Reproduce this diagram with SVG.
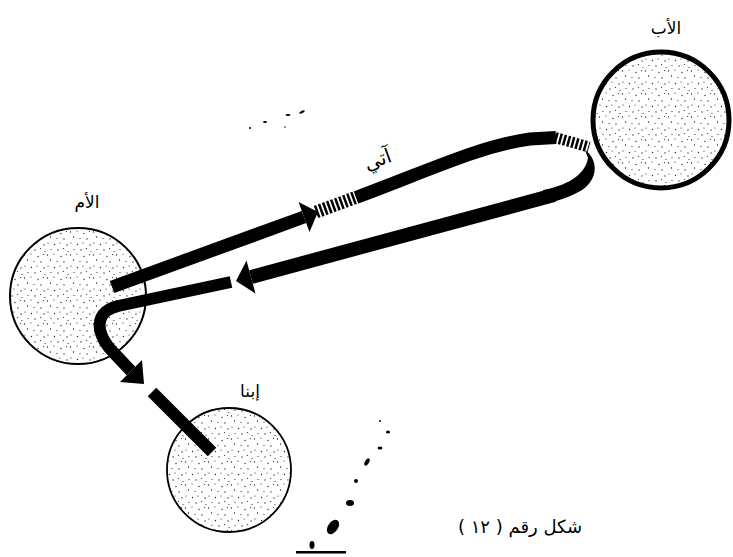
<svg xmlns="http://www.w3.org/2000/svg" width="733" height="557" viewBox="0 0 733 557">
<style>
.lbl{font-family:"DejaVu Sans","Liberation Sans",sans-serif;font-size:17px;fill:#000;text-anchor:middle;direction:rtl}
.band{fill:none;stroke:#000;stroke-linecap:butt;stroke-linejoin:round}
.hatch{fill:none;stroke:#000;stroke-dasharray:2.5 1.8}
.head{fill:#000}
.spk{fill:#000}
</style>
<defs>
<pattern id="dots" width="23" height="23" patternUnits="userSpaceOnUse">
<rect width="23" height="23" fill="#fff"/>
<g fill="#222">
<circle cx="1.5" cy="2" r="0.65"/>
<circle cx="8" cy="1" r="0.6"/>
<circle cx="15" cy="3.5" r="0.65"/>
<circle cx="20.5" cy="1.5" r="0.6"/>
<circle cx="4.5" cy="7" r="0.65"/>
<circle cx="11" cy="8.5" r="0.6"/>
<circle cx="18" cy="9" r="0.65"/>
<circle cx="2" cy="13" r="0.6"/>
<circle cx="8.5" cy="14.5" r="0.65"/>
<circle cx="14" cy="13" r="0.6"/>
<circle cx="21" cy="15" r="0.65"/>
<circle cx="5" cy="19.5" r="0.6"/>
<circle cx="12" cy="20" r="0.65"/>
<circle cx="17.5" cy="18.5" r="0.6"/>
<circle cx="22" cy="21.5" r="0.6"/>
</g>
</pattern>
</defs>
<rect width="733" height="557" fill="#fff"/>

<g id="node-father">
<circle cx="661" cy="120" r="68" fill="url(#dots)" stroke="#000" stroke-width="5"/>
<text class="lbl" x="666" y="34">الأب</text>
</g>

<g id="node-mother">
<circle cx="78" cy="296" r="68" fill="url(#dots)" stroke="#000" stroke-width="2"/>
<text class="lbl" x="87" y="208">الأم</text>
</g>

<g id="node-child">
<circle cx="229" cy="470" r="62" fill="url(#dots)" stroke="#000" stroke-width="1.8"/>
<text class="lbl" x="250" y="397">إبنا</text>
</g>

<g id="connectors">
<path class="band" stroke-width="13" d="M112 287 L304 217"/>
<polygon class="head" points="298.5,202 318,212 309.5,232"/>
<path class="hatch" stroke-width="13" d="M316 212 L357 197"/>
<path class="band" stroke-width="13" d="M356 197.5 C430 170 480 146 530 139 L556 137.5"/>
<path class="hatch" stroke-width="11" d="M555 137.5 L589 147"/>
<path class="head" d="M585 150 C597 158 600 178 582 190 C570 197 558 201 545 204 L543 190 C565 186 585 176 588 158 Z"/>
<path class="band" stroke-width="14" d="M554 195 L251 277"/>
<polygon class="head" points="246.5,260.6 236,281 255.5,293.4"/>
<path class="band" stroke-width="12" d="M231 282 L118 306 Q97 311 100 330 Q103 342 113 352 L131 371"/>
<polygon class="head" points="142,360 144,384 120,382"/>
<path class="band" stroke-width="12" d="M152 392 L212 452"/>
<text class="lbl" x="380" y="166" transform="rotate(-20 380 166)" style="font-size:20px">آتي</text>
</g>

<g id="caption">
<text class="lbl" x="520" y="533" style="font-size:18px">شكل رقم ( ١٢ )</text>
</g>

<g id="specks">
<circle class="spk" cx="250" cy="128" r="1"/>
<ellipse class="spk" cx="265" cy="122" rx="2" ry="1"/>
<ellipse class="spk" cx="288" cy="115" rx="2.5" ry="1"/>
<ellipse class="spk" cx="302" cy="112" rx="3" ry="1.2" transform="rotate(-25 302 112)"/>
<circle class="spk" cx="285" cy="127" r="0.8"/>
<circle class="spk" cx="380" cy="421" r="1"/>
<ellipse class="spk" cx="388" cy="432" rx="2" ry="1.5"/>
<ellipse class="spk" cx="380" cy="448" rx="2.5" ry="1.5"/>
<ellipse class="spk" cx="367" cy="462" rx="2" ry="4" transform="rotate(30 367 462)"/>
<circle class="spk" cx="356" cy="481" r="2"/>
<ellipse class="spk" cx="350" cy="503" rx="4" ry="3"/>
<ellipse class="spk" cx="333" cy="527" rx="5" ry="8" transform="rotate(35 333 527)" fill="#555"/>
<ellipse class="spk" cx="312" cy="545" rx="2.5" ry="4"/>
<rect class="spk" x="296" y="551" width="50" height="2.5"/>
</g>
</svg>
